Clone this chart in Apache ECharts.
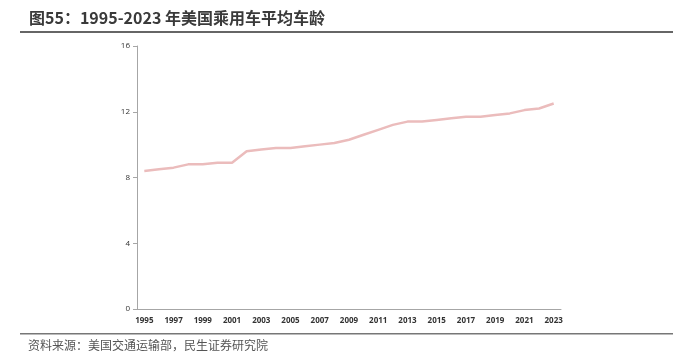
<!DOCTYPE html>
<html><head><meta charset="utf-8">
<script src="https://cdn.jsdelivr.net/npm/echarts@6/dist/echarts.min.js"></script>
<style>html,body{margin:0;padding:0;background:#fff}#c{width:673px;height:357px}</style>
</head><body><div id="c"></div>
<script>
const years = [];
for (let y = 1995; y <= 2023; y++) years.push(String(y));
const avgAge = [8.4,8.5,8.6,8.8,8.8,8.9,8.9,9.6,9.7,9.8,9.8,9.9,10.0,10.1,10.3,10.6,10.9,11.2,11.4,11.4,11.5,11.6,11.7,11.7,11.8,11.9,12.1,12.2,12.5];
const yTicks = [0,4,8,12,16];
const title = '图55：1995-2023 年美国乘用车平均车龄';
const source = '资料来源：美国交通运输部，民生证券研究院';

const chart = echarts.init(document.getElementById('c'));
chart.setOption({
  animation: false,
  grid: {left: 137, right: 112, top: 46, bottom: 48},
  xAxis: {
    type: 'category', data: years, boundaryGap: true,
    axisLine: {lineStyle: {color: '#a6a6a6', width: 1}},
    axisTick: {show: false},
    axisLabel: {interval: 1, color: '#333', fontSize: 8, fontFamily: 'Open Sans', fontWeight: 'bold', margin: 8}
  },
  yAxis: {
    type: 'value', min: yTicks[0], max: yTicks[yTicks.length-1], interval: 4,
    axisLine: {show: true, lineStyle: {color: '#a6a6a6', width: 1}},
    axisTick: {show: true, length: 4, lineStyle: {color: '#a6a6a6'}},
    splitLine: {show: false},
    axisLabel: {color: '#333', fontSize: 8, fontFamily: 'Open Sans', margin: 7}
  },
  series: [{
    type: 'line', data: avgAge, showSymbol: false,
    lineStyle: {color: '#ebbcbc', width: 2.5}
  }],
  graphic: [
    {type: 'text', left: 29, top: 10, style: {text: title, fontSize: 16, fontWeight: 'bold', fill: '#3a3a3a', fontFamily: 'Noto Sans CJK SC'}},
    {type: 'rect', shape: {x: 20, y: 31, width: 653, height: 2}, style: {fill: '#666'}},
    {type: 'rect', shape: {x: 20, y: 333, width: 653, height: 1.5}, style: {fill: '#777'}},
    {type: 'text', left: 28, top: 339, style: {text: source, fontSize: 12, fill: '#555', fontFamily: 'Noto Sans CJK SC'}}
  ]
});
</script></body></html>
